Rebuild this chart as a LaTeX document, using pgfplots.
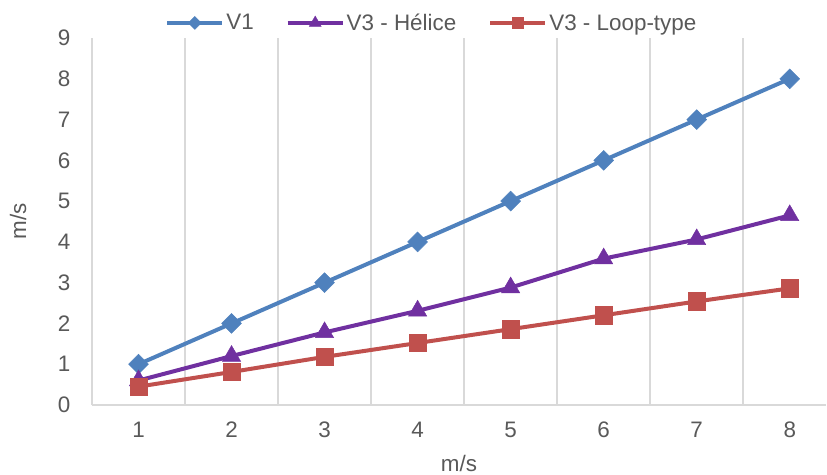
\documentclass[border=0pt]{standalone}
\usepackage{pgfplots}
\pgfplotsset{compat=1.18}
\usepackage{fontspec}
\setmainfont{Liberation Sans}
\definecolor{cV1}{HTML}{4F81BD}
\definecolor{cHel}{HTML}{7030A0}
\definecolor{cLoop}{HTML}{C0504D}
\definecolor{txt}{HTML}{595959}
\definecolor{grd}{HTML}{D9D9D9}
\begin{document}
\begin{tikzpicture}
\begin{axis}[
  name=ax, at={(0,0)}, anchor=south west,
  scale only axis, width=734bp, height=367bp,
  xmin=0.5, xmax=8.39, ymin=0, ymax=9,
  xtick={1,...,8}, ytick={0,...,9},
  minor xtick={1.5,2.5,...,7.5},
  minor x grid style={grd, line width=1.5bp},
  xminorgrids=true,
  major tick length=0pt, minor tick length=0pt,
  axis x line*=bottom, axis y line*=left,
  axis line style={grd, line width=1.5bp, -},
  /pgf/number format/assume math mode=true,
  ticklabel style={font=\fontsize{22.5}{26}\selectfont, text=txt},
  xticklabel style={anchor=center, yshift=-25bp},
  yticklabel style={anchor=center, xshift=-28bp},
  xlabel={m/s}, ylabel={m/s},
  label style={font=\fontsize{22.5}{26}\selectfont, text=txt},
  xlabel style={at={(axis description cs:0.5,0)}, anchor=center, yshift=-58bp},
  ylabel style={at={(axis description cs:0,0.5)}, anchor=center, rotate=0, xshift=0bp, yshift=74bp},
  legend columns=3,
  legend style={draw=none, fill=none, at={(0.463,1.041)}, anchor=center,
    font=\fontsize{22.5}{26}\selectfont, text=txt,
    /tikz/every even column/.append style={column sep=30bp}},
  legend cell align=left,
  legend image code/.code={
    \draw[#1, mark repeat=2, mark phase=2, every mark/.append style={scale=0.65}] plot coordinates {(0bp,0bp) (27.5bp,0bp) (55bp,0bp)};
  },
  every axis plot/.append style={line width=4bp},
]
\addplot[cV1, mark=square*, mark size=7bp, mark options={rotate=45, line width=0.5bp}]
  coordinates {(1,1) (2,2) (3,3) (4,4) (5,5) (6,6) (7,7) (8,8)};
\addlegendentry{V1}
\addplot[cHel, mark=triangle*, mark size=10.5bp, mark options={line width=0.5bp}]
  coordinates {(1,0.60) (2,1.20) (3,1.78) (4,2.31) (5,2.88) (6,3.59) (7,4.06) (8,4.65)};
\addlegendentry{V3 - Hélice}
\addplot[cLoop, mark=square*, mark size=8.7bp, mark options={line width=0.5bp}]
  coordinates {(1,0.45) (2,0.81) (3,1.18) (4,1.52) (5,1.86) (6,2.20) (7,2.54) (8,2.86)};
\addlegendentry{V3 - Loop-type}
\end{axis}
\path[use as bounding box] (-92bp,-70bp) rectangle (735bp,405bp);
\end{tikzpicture}
\end{document}
